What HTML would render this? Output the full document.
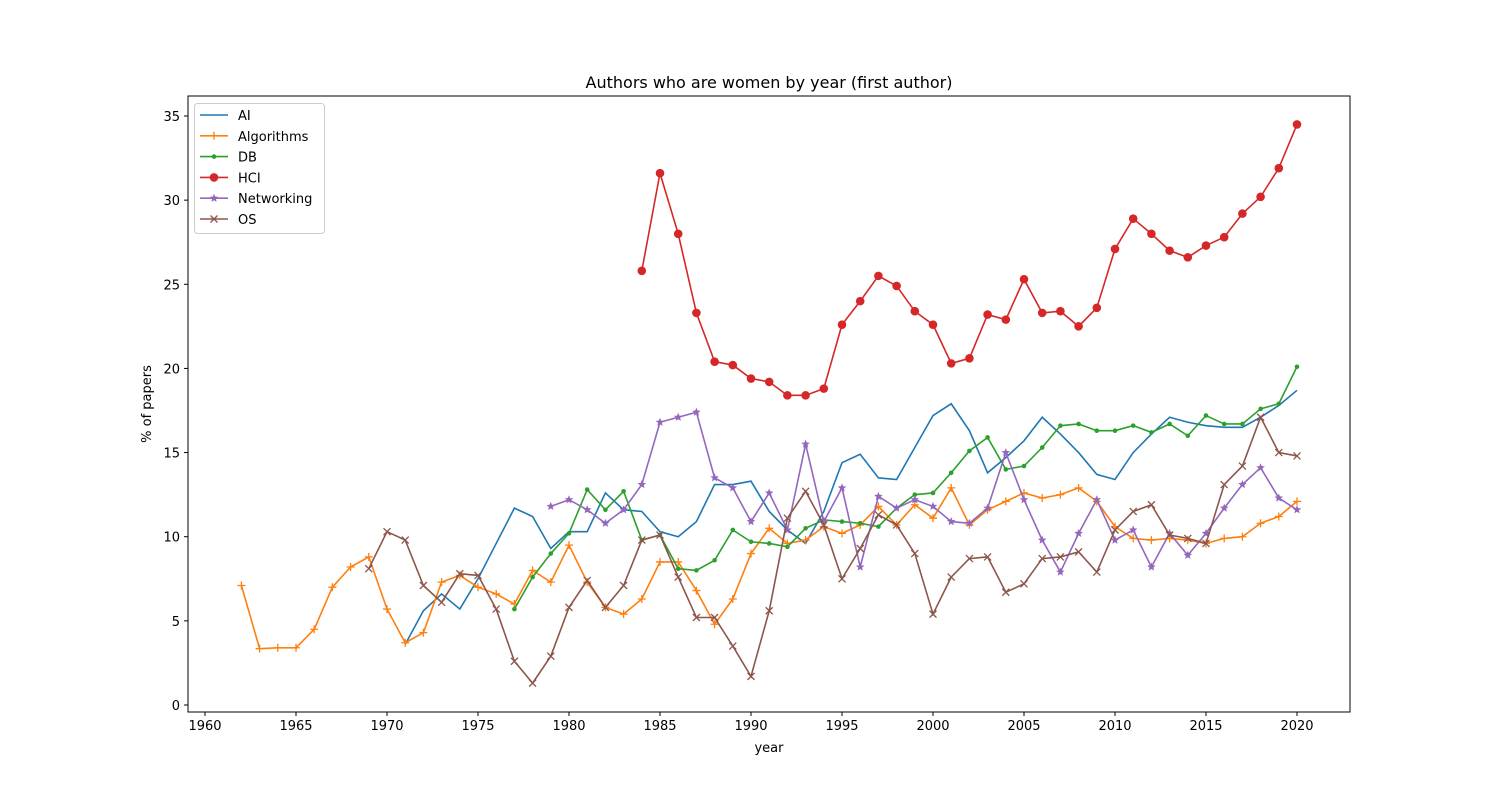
<!DOCTYPE html>
<html><head><meta charset="utf-8"><style>
body{margin:0;background:#fff;font-family:"DejaVu Sans","Liberation Sans",sans-serif;}
svg text{font-family:"DejaVu Sans","Liberation Sans",sans-serif;}
</style></head><body>
<svg id="chart" width="1500" height="800"></svg>
<script>
const aiStart=1971;
const aiValues=[3.6,5.6,6.6,5.7,7.5,9.6,11.7,11.2,9.3,10.3,10.3,12.6,11.6,11.5,10.3,10,10.9,13.1,13.1,13.3,11.5,10.4,9.6,11.5,14.4,14.9,13.5,13.4,15.3,17.2,17.9,16.3,13.8,14.7,15.7,17.1,16.1,15,13.7,13.4,15,16.1,17.1,16.8,16.6,16.5,16.5,17.1,17.8,18.7];
const algStart=1962;
const algValues=[7.1,3.35,3.4,3.4,4.5,7.0,8.2,8.8,5.7,3.7,4.3,7.3,7.7,7.0,6.6,6.0,8.0,7.3,9.5,7.3,5.8,5.4,6.3,8.5,8.5,6.8,4.8,6.3,9.0,10.5,9.6,9.8,10.6,10.2,10.7,11.8,10.7,11.9,11.1,12.9,10.7,11.6,12.1,12.6,12.3,12.5,12.9,12.1,10.6,9.9,9.8,9.9,9.8,9.6,9.9,10.0,10.8,11.2,12.1];
const dbStart=1977;
const dbValues=[5.7,7.6,9.0,10.2,12.8,11.6,12.7,9.8,10.1,8.1,8.0,8.6,10.4,9.7,9.6,9.4,10.5,11.0,10.9,10.8,10.6,11.7,12.5,12.6,13.8,15.1,15.9,14.0,14.2,15.3,16.6,16.7,16.3,16.3,16.6,16.2,16.7,16.0,17.2,16.7,16.7,17.6,17.9,20.1];
const hciStart=1984;
const hciValues=[25.8,31.6,28,23.3,20.4,20.2,19.4,19.2,18.4,18.4,18.8,22.6,24,25.5,24.9,23.4,22.6,20.3,20.6,23.2,22.9,25.3,23.3,23.4,22.5,23.6,27.1,28.9,28,27,26.6,27.3,27.8,29.2,30.2,31.9,34.5];
const netStart=1979;
const netValues=[11.8,12.2,11.6,10.8,11.6,13.1,16.8,17.1,17.4,13.5,12.9,10.9,12.6,10.4,15.5,10.9,12.9,8.2,12.4,11.7,12.2,11.8,10.9,10.8,11.7,15.0,12.2,9.8,7.9,10.2,12.2,9.8,10.4,8.2,10.2,8.9,10.2,11.7,13.1,14.1,12.3,11.6];
const osStart=1969;
const osValues=[8.1,10.3,9.8,7.1,6.1,7.8,7.7,5.7,2.6,1.3,2.9,5.8,7.4,5.8,7.1,9.8,10.1,7.6,5.2,5.2,3.5,1.7,5.6,11.1,12.7,10.7,7.5,9.3,11.3,10.7,9.0,5.4,7.6,8.7,8.8,6.7,7.2,8.7,8.8,9.1,7.9,10.4,11.5,11.9,10.1,9.9,9.6,13.1,14.2,17.1,15.0,14.8];
const xTicks=[1960,1965,1970,1975,1980,1985,1990,1995,2000,2005,2010,2015,2020];
const yTicks=[0,5,10,15,20,25,30,35];

const NS="http://www.w3.org/2000/svg";
const svg=document.getElementById('chart');
const L=188,R=1350,T=96,B=712;
function xs(v){return 205+(v-1960)*(1297-205)/60;}
function ys(v){return 705-v*(705-116)/35;}
function mk(tag,attrs,parent){const e=document.createElementNS(NS,tag);for(const k in attrs)e.setAttribute(k,attrs[k]);(parent||svg).appendChild(e);return e;}

const frame=mk('rect',{x:L,y:T,width:R-L,height:B-T,fill:'none',stroke:'#000','stroke-width':1});



xTicks.forEach(t=>{
  const g=mk('g',{});
  
  
  mk('line',{x1:xs(t),x2:xs(t),y1:B,y2:B+4,stroke:'#000'},g);
  const tx=mk('text',{x:xs(t),y:B+18,'text-anchor':'middle','font-size':13},g);tx.textContent=t;
});
yTicks.forEach(t=>{
  const g=mk('g',{});
  
  
  mk('line',{x1:L-4,x2:L,y1:ys(t),y2:ys(t),stroke:'#000'},g);
  const tx=mk('text',{x:L-8,y:ys(t)+5,'text-anchor':'end','font-size':13},g);tx.textContent=t;
});
const title=mk('text',{x:769,y:88,'text-anchor':'middle','font-size':16});title.textContent='Authors who are women by year (first author)';


const xl=mk('text',{x:769,y:752,'text-anchor':'middle','font-size':13});xl.textContent='year';


const yl=mk('text',{x:151,y:404,'text-anchor':'middle','font-size':13,transform:'rotate(-90 151 404)'});yl.textContent='% of papers';



function marker(type,x,y,c,g){
  if(type==='plus'){mk('path',{d:`M${x-4},${y}H${x+4}M${x},${y-4}V${y+4}`,stroke:c,'stroke-width':1.3,fill:'none'},g);}
  else if(type==='dot'){mk('circle',{cx:x,cy:y,r:2.3,fill:c},g);}
  else if(type==='circle'){mk('circle',{cx:x,cy:y,r:4.3,fill:c},g);}
  else if(type==='x'){mk('path',{d:`M${x-3.5},${y-3.5}L${x+3.5},${y+3.5}M${x-3.5},${y+3.5}L${x+3.5},${y-3.5}`,stroke:c,'stroke-width':1.3,fill:'none'},g);}
  else if(type==='star'){let p='';for(let i=0;i<10;i++){const r=i%2?2:4.5;const a=-Math.PI/2+i*Math.PI/5;p+=(i?'L':'M')+(x+r*Math.cos(a)).toFixed(2)+','+(y+r*Math.sin(a)).toFixed(2);}mk('path',{d:p+'Z',fill:c},g);}
}
const series=[
 ['AI',aiStart,aiValues,'#1f77b4',null,'series-ai'],
 ['Algorithms',algStart,algValues,'#ff7f0e','plus','series-algorithms'],
 ['DB',dbStart,dbValues,'#2ca02c','dot','series-db'],
 ['HCI',hciStart,hciValues,'#d62728','circle','series-hci'],
 ['Networking',netStart,netValues,'#9467bd','star','series-networking'],
 ['OS',osStart,osValues,'#8c564b','x','series-os']];
series.forEach(s=>{
  const g=mk('g',{});
  
  
  const pts=s[2].map((v,i)=>[xs(s[1]+i),ys(v)]);
  mk('polyline',{points:pts.map(p=>p.join(',')).join(' '),fill:'none',stroke:s[3],'stroke-width':1.6},g);
  if(s[4])pts.forEach(p=>marker(s[4],p[0],p[1],s[3],g));
});
const lg=mk('g',{});


mk('rect',{x:194.5,y:103.5,width:130,height:130,rx:3,fill:'#fff',stroke:'#ccc'},lg);
series.forEach((s,i)=>{
  const y=115+i*20.8;
  const e=mk('g',{},lg);
  
  
  mk('line',{x1:200,x2:228,y1:y,y2:y,stroke:s[3],'stroke-width':1.6},e);
  if(s[4])marker(s[4],214,y,s[3],e);
  const t=mk('text',{x:238,y:y+5,'font-size':13},e);t.textContent=s[0];
});
</script>
</body></html>
